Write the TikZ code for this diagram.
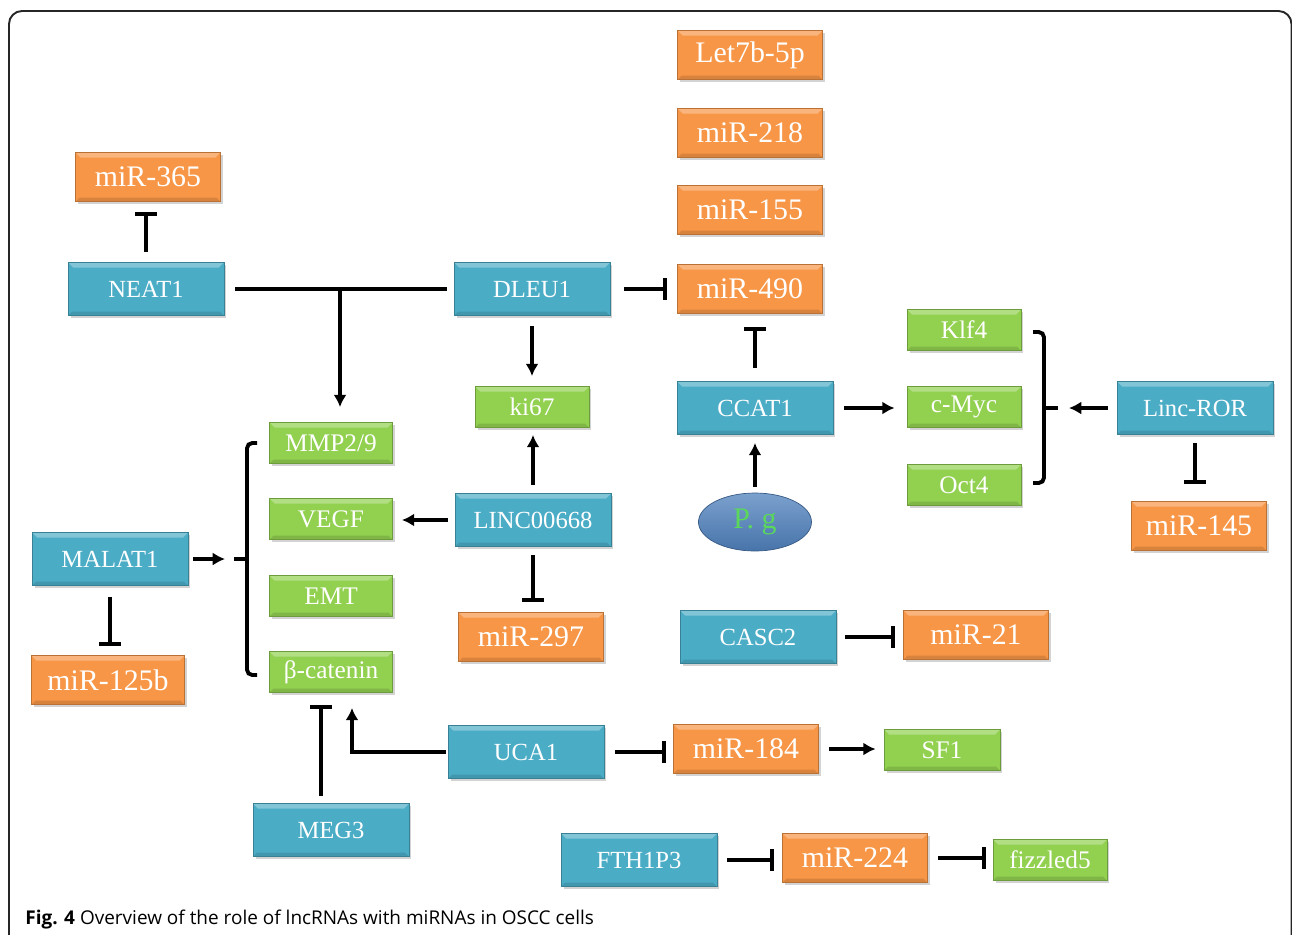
\documentclass[tikz,border=0pt]{standalone}
\usepackage{fontspec}
\setmainfont{Liberation Serif}
\newfontfamily\capfont{Open Sans}
\usetikzlibrary{arrows.meta,shadows,shapes.geometric}
\definecolor{myblue}{HTML}{4BACC6}
\definecolor{myorange}{HTML}{F79646}
\definecolor{mygreen}{HTML}{92D050}
\definecolor{mynavy}{HTML}{4F81BD}
\definecolor{pgreen}{HTML}{5BD85B}
\tikzset{
  bevel/.style={rectangle, draw=#1!75!black, line width=0.5pt, fill=#1, text=white,
    drop shadow={shadow xshift=0.05cm, shadow yshift=-0.05cm, opacity=0.35},
    path picture={
      \fill[white, opacity=0.3] (path picture bounding box.north west) -- (path picture bounding box.north east)
        -- ([shift={(-0.1cm,-0.1cm)}]path picture bounding box.north east) -- ([shift={(0.1cm,-0.1cm)}]path picture bounding box.north west) -- cycle;
      \fill[black, opacity=0.12] (path picture bounding box.south west) -- (path picture bounding box.south east)
        -- ([shift={(-0.08cm,0.08cm)}]path picture bounding box.south east) -- ([shift={(0.08cm,0.08cm)}]path picture bounding box.south west) -- cycle;
    }},
  lnc/.style={bevel=myblue, minimum width=3.12cm, minimum height=1.06cm, font=\fontsize{14}{16}\selectfont},
  mirna/.style={bevel=myorange, minimum width=2.9cm, minimum height=0.98cm, font=\fontsize{17}{19}\selectfont},
  gene/.style={bevel=mygreen, minimum width=2.28cm, minimum height=0.82cm, font=\fontsize{14.4}{16}\selectfont},
  act/.style={draw, line width=2.2pt, -{Latex[length=7pt,width=7.5pt]}, shorten <=0.2cm, shorten >=0.2cm},
  inh/.style={draw, line width=2.2pt, -{Bar[width=12.5pt]}, shorten <=0.2cm, shorten >=0.2cm},
  link/.style={draw, line width=2.2pt, rounded corners=3pt}
}

\begin{document}
\begin{tikzpicture}[x=0.02cm, y=-0.02cm]
\useasboundingbox (0,0) rectangle (1292,934);
\draw[line width=1.1pt, rounded corners=0.26cm, black!85] (9,11) rectangle (1291.5,1000);

% miRNAs
\node [mirna] (let7b) at (750,55) {Let7b-5p};
\node [mirna] (mir218) at (750,133) {miR-218};
\node [mirna] (mir155) at (750,210) {miR-155};
\node [mirna] (mir490) at (750,289) {miR-490};
\node [mirna] (mir365) at (148,177) {miR-365};
\node [mirna, minimum width=3.06cm] (mir125b) at (108,680) {miR-125b};
\node [mirna] (mir297) at (531,637) {miR-297};
\node [mirna] (mir21) at (976,635) {miR-21};
\node [mirna] (mir184) at (746,749) {miR-184};
\node [mirna] (mir224) at (855,858) {miR-224};
\node [mirna, minimum width=2.7cm] (mir145) at (1199,526) {miR-145};

% lncRNAs
\node [lnc] (neat1) at (146,289) {NEAT1};
\node [lnc] (dleu1) at (532,289) {DLEU1};
\node [lnc] (ccat1) at (755,408) {CCAT1};
\node [lnc] (linc668) at (533,520) {LINC00668};
\node [lnc] (lincror) at (1195,408) {Linc-ROR};
\node [lnc] (malat1) at (110,559) {MALAT1};
\node [lnc] (casc2) at (758,637) {CASC2};
\node [lnc] (uca1) at (526,752) {UCA1};
\node [lnc] (meg3) at (331,830) {MEG3};
\node [lnc] (fth1p3) at (639,860) {FTH1P3};

% targets
\node [gene] (ki67) at (532,407) {ki67};
\node [gene, minimum width=2.46cm] (mmp) at (331,443) {MMP2/9};
\node [gene, minimum width=2.46cm] (vegf) at (331,519) {VEGF};
\node [gene, minimum width=2.46cm] (emt) at (331,596) {EMT};
\node [gene, minimum width=2.46cm] (bcat) at (331,672) {β-catenin};
\node [gene] (klf4) at (964,330) {Klf4};
\node [gene] (cmyc) at (964,407) {c-Myc};
\node [gene] (oct4) at (964,485) {Oct4};
\node [gene, minimum width=2.32cm] (sf1) at (942,750) {SF1};
\node [gene] (fzd5) at (1050,860) {fizzled5};
\node [ellipse, draw=mynavy!70!black, top color=mynavy!75!white, bottom color=mynavy!90!black,
  minimum width=2.26cm, minimum height=1.16cm, inner sep=0pt,
  text=pgreen, font=\fontsize{17}{19}\selectfont] (pg) at (755,522) {P. g};

% brackets
\draw[link] (257,443) -- (247,443) -- (247,675) -- (257,675);
\draw[link] (247,559) -- (234,559);
\coordinate (ltip) at (234,559);
\draw[link] (1033,332) -- (1044,332) -- (1044,483) -- (1033,483);
\draw[link] (1044,408) -- (1058,408);
\coordinate (rtip) at (1058,408);
\coordinate (split) at (340,289);

% connectors
\draw[inh] (neat1.north) -- (neat1.north |- mir365.south);
\draw[link, shorten <=0.22cm, shorten >=0.14cm] (neat1.east) -- (neat1.east -| dleu1.west);
\draw[act, shorten <=0pt, shorten >=0.3cm] (split) -- (split |- mmp.north);
\draw[inh, shorten <=0.28cm] (dleu1.east) -- (dleu1.east -| mir490.west);
\draw[act] (dleu1.south) -- (ki67.north);
\draw[act, shorten <=0.16cm, shorten >=0.14cm] (linc668.north) -- (linc668.north |- ki67.south);
\draw[inh, shorten <=0.26cm, shorten >=0.26cm] (ccat1.north) -- (ccat1.north |- mir490.south);
\draw[act, shorten <=0.12cm, shorten >=0.16cm] (pg.north) -- (pg.north |- ccat1.south);
\draw[act, shorten <=0.22cm, shorten >=0.24cm] (ccat1.east) -- (ccat1.east -| cmyc.west);
\draw[act, shorten <=0.18cm, shorten >=0.22cm] (lincror.west) -- (rtip);
\draw[inh, shorten <=0.16cm, shorten >=0.34cm] (lincror.south) -- (lincror.south |- mir145.north);
\draw[act, shorten <=0.1cm, shorten >=0.18cm] (malat1.east) -- (ltip);
\draw[inh, shorten <=0.22cm, shorten >=0.18cm] (malat1.south) -- (malat1.south |- mir125b.north);
\draw[act, shorten <=0.14cm, shorten >=0.18cm] (linc668.west) -- (linc668.west -| vegf.east);
\draw[inh, shorten <=0.16cm] (linc668.south) -- (linc668.south |- mir297.north);
\draw[inh, shorten <=0.14cm, shorten >=0.24cm] ([xshift=-0.2cm]meg3.north) -- ([xshift=-0.2cm]meg3.north |- bcat.south);
\draw[act, shorten <=0.04cm, shorten >=0.3cm] (uca1.west) -| ([xshift=0.42cm]bcat.south);
\draw[inh, shorten <=0.22cm, shorten >=0.14cm] (uca1.east) -- (uca1.east -| mir184.west);
\draw[act, shorten >=0.16cm] (mir184.east) -- (mir184.east -| sf1.west);
\draw[inh, shorten <=0.18cm, shorten >=0.16cm] (casc2.east) -- (casc2.east -| mir21.west);
\draw[inh, shorten >=0.16cm] (fth1p3.east) -- (fth1p3.east -| mir224.west);
\draw[inh, shorten >=0.14cm] (mir224.east) -- (mir224.east -| fzd5.west);

% caption
\node [anchor=base west, inner sep=0pt, font=\capfont\fontsize{10.8}{13}\selectfont] (caption) at (25,924)
{\textbf{Fig. 4} Overview of the role of lncRNAs with miRNAs in OSCC cells};

\end{tikzpicture}
\end{document}
